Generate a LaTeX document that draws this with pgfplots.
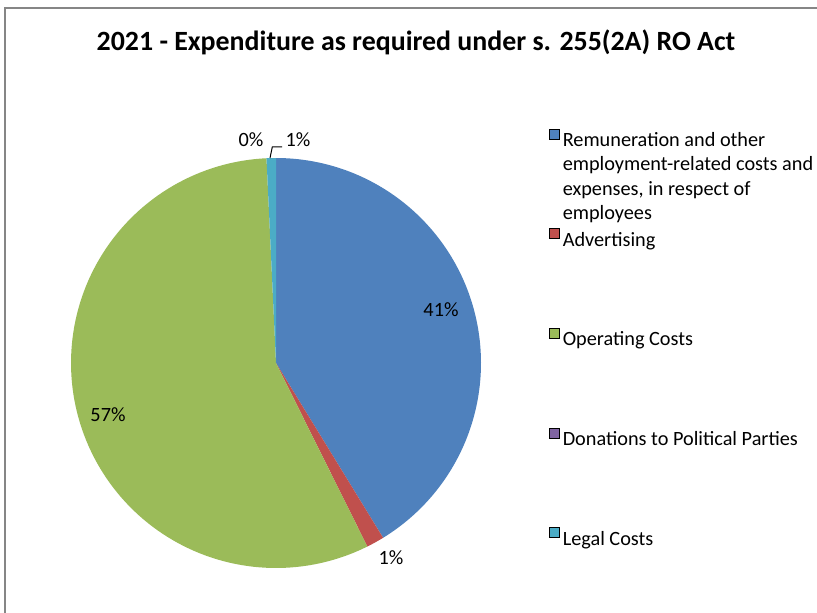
\documentclass[border=0pt]{standalone}
\usepackage{fontspec}
\setmainfont{Carlito}
\usepackage{pgfplots}
\usepackage{pgfplotstable}
\pgfplotsset{compat=1.18}
\definecolor{c1}{HTML}{4F81BD}
\definecolor{c2}{HTML}{C0504D}
\definecolor{c3}{HTML}{9BBB59}
\definecolor{c4}{HTML}{8064A2}
\definecolor{c5}{HTML}{4BACC6}
\definecolor{frame}{HTML}{868686}

% percentage shares of the pie, clockwise from the top
\pgfplotstableread{
value color
41.25 c1
1.40  c2
56.61 c3
0.00  c4
0.74  c5
}\piedata

\begin{document}
\begin{tikzpicture}
\begin{axis}[
  width=612.75pt, height=459.75pt, scale only axis,
  xmin=0, xmax=817, ymin=0, ymax=613, y dir=reverse,
  hide axis, clip=false,
  legend image code/.code={\fill[#1] (0pt,0pt) rectangle (7.5pt,7.5pt);},
  legend cell align=left,
  legend style={at={(axis cs:548.5,128.3)}, anchor=north west, draw=none, fill=none,
    inner sep=0pt, row sep=59.9pt, column sep=2.6pt,
    nodes={inner sep=0pt},
    font=\fontsize{15.2}{18.3}\selectfont},
]
\pgfplotstablegetrowsof{\piedata}
\pgfmathtruncatemacro\nrows{\pgfplotsretval-1}
\xdef\cumang{90}
\pgfplotsforeachungrouped \i in {0,...,\nrows}{%
  \pgfplotstablegetelem{\i}{value}\of\piedata \let\val\pgfplotsretval
  \pgfplotstablegetelem{\i}{color}\of\piedata \let\col\pgfplotsretval
  \pgfmathsetmacro\endang{\cumang-3.6*\val}%
  \ifdim\val pt>0pt
    \edef\doplot{\noexpand\addplot[forget plot, fill=\col, draw=none, domain=\endang:\cumang, samples=120, variable=\noexpand\t] ({276+205*cos(\noexpand\t)},{363-205*sin(\noexpand\t)}) -- (axis cs:276,363) -- cycle;}%
    \doplot
  \fi
  \xdef\cumang{\endang}%
}
% leader line for the small slice
\addplot[forget plot, black, line width=0.75pt] coordinates {(282,147) (272.3,147) (270,158)};

\addlegendimage{fill=c1}
\addlegendentry{\raisebox{0pt}[\height][3.6pt]{\parbox[t]{300pt}{Remuneration and other\strut\\employment-related costs and\\expenses, in respect of\\employees}}}
\addlegendimage{fill=c2}
\addlegendentry{Advertising\strut}
\addlegendimage{fill=c3}
\addlegendentry{Operating Costs\strut}
\addlegendimage{fill=c4}
\addlegendentry{Donations to Political Parties\strut}
\addlegendimage{fill=c5}
\addlegendentry{Legal Costs\strut}

\draw[frame, line width=1.5pt] (axis cs:5,613) -- (axis cs:5,8) -- (axis cs:817,8);

\node[anchor=base, font=\fontsize{20.9}{24}\selectfont\bfseries] at (axis cs:416,51) {2021 - Expenditure as required under s. 255(2A) RO Act};
\begin{scope}[every node/.style={anchor=base, font=\fontsize{15.2}{18}\selectfont}]
\node at (axis cs:441,316) {41\%};
\node at (axis cs:108,421.7) {57\%};
\node at (axis cs:391,564) {1\%};
\node at (axis cs:251,146.7) {0\%};
\node at (axis cs:298,146.7) {1\%};
\end{scope}
\end{axis}
\pgfresetboundingbox
\useasboundingbox (current axis.south west) rectangle (current axis.north east);
\end{tikzpicture}
\end{document}
